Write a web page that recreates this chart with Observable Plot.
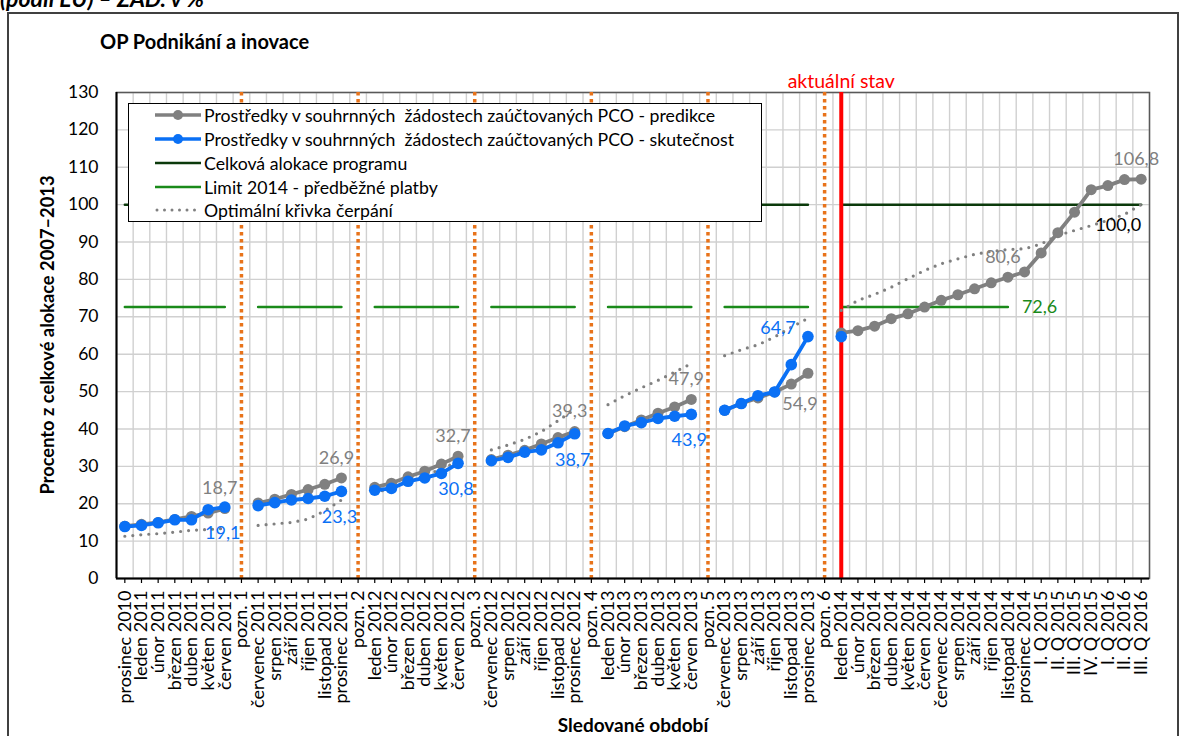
<!DOCTYPE html>
<html><head><meta charset="utf-8">
<script src="https://cdn.jsdelivr.net/npm/d3@7"></script>
<script src="https://cdn.jsdelivr.net/npm/@observablehq/plot@0.6"></script>
<style>
body{margin:0;background:#fff;font-family:Lato,sans-serif;}
#wrap{position:relative;width:1182px;height:736px;overflow:hidden;background:#fff;}
#frame{position:absolute;left:7px;top:12px;width:1168px;height:800px;border:2px solid #404040;}
#top{position:absolute;left:0px;top:-16px;font:italic bold 23px Lato,sans-serif;white-space:pre;}
#title{position:absolute;left:100px;top:29px;font:bold 20px Lato,sans-serif;white-space:pre;}
#chart{position:absolute;left:0;top:0;}
#ylab{position:absolute;left:47px;top:335px;transform:translate(-50%,-50%) rotate(-90deg);font:bold 18.3px Lato,sans-serif;white-space:pre;}
#xlab{position:absolute;left:633px;top:724px;transform:translate(-50%,-50%);font:bold 19px Lato,sans-serif;white-space:pre;}
#legend{position:absolute;left:128px;top:103px;width:632px;height:117px;background:#fff;border:1.5px solid #000;}
.row{position:absolute;left:0;height:24px;display:flex;align-items:center;font:17.7px Lato,sans-serif;white-space:pre;}
.row svg{margin-left:26px;margin-right:3px;}
</style></head><body>
<div id="wrap">
  <div id="frame"></div>
  <div id="top">(podíl EU) – ZAD. v %</div>
  <div id="title">OP Podnikání a inovace</div>
  <div id="chart"></div>
  <div id="ylab">Procento z celkové alokace 2007–2013</div>
  <div id="xlab">Sledované období</div>
  <div id="legend"></div>
</div>
<script>
const categories = [
  "prosinec 2010","leden 2011","únor 2011","březen 2011","duben 2011","květen 2011","červen 2011","pozn. 1",
  "červenec 2011","srpen 2011","září 2011","říjen 2011","listopad 2011","prosinec 2011","pozn. 2",
  "leden 2012","únor 2012","březen 2012","duben 2012","květen 2012","červen 2012","pozn. 3",
  "červenec 2012","srpen 2012","září 2012","říjen 2012","listopad 2012","prosinec 2012","pozn. 4",
  "leden 2013","únor 2013","březen 2013","duben 2013","květen 2013","červen 2013","pozn. 5",
  "červenec 2013","srpen 2013","září 2013","říjen 2013","listopad 2013","prosinec 2013","pozn. 6",
  "leden 2014","únor 2014","březen 2014","duben 2014","květen 2014","červen 2014","červenec 2014","srpen 2014","září 2014","říjen 2014","listopad 2014","prosinec 2014",
  "I. Q 2015","II. Q 2015","III. Q 2015","IV. Q 2015","I. Q 2016","II. Q 2016","III. Q 2016"
];
const N = null;
// Prostředky v souhrnných žádostech zaúčtovaných PCO - predikce
const predikce = [
  14.0,14.5,15.0,15.8,16.6,17.5,18.7,N,
  20.2,21.2,22.5,23.8,25.2,26.9,N,
  24.4,25.5,27.2,28.7,30.6,32.7,N,
  31.8,33.0,34.3,36.0,37.7,39.3,N,
  38.8,40.6,42.4,44.2,45.9,47.9,N,
  45.0,46.8,48.3,49.9,52.0,54.9,N,
  65.7,66.3,67.5,69.5,70.8,72.6,74.4,75.9,77.5,79.1,80.6,82.0,
  87.1,92.5,98.0,104.0,105.1,106.7,106.8
];
// Prostředky v souhrnných žádostech zaúčtovaných PCO - skutečnost
const skutecnost = [
  13.9,14.2,14.9,15.7,15.7,18.4,19.1,N,
  19.5,20.3,21.0,21.4,22.0,23.3,N,
  23.6,24.1,26.0,26.9,28.1,30.8,N,
  31.5,32.4,33.8,34.4,36.3,38.7,N,
  38.8,40.8,41.7,42.8,43.4,43.9,N,
  45.0,46.8,48.9,49.9,57.2,64.7,N,
  64.7,N,N,N,N,N,N,N,N,N,N,N,
  N,N,N,N,N,N,N
];
// Optimální křivka čerpání
const optimalni = [
  11.3,11.7,12.0,12.4,12.9,13.1,13.4,N,
  14.2,14.6,15.0,15.9,18.1,21.0,N,
  22.8,24.3,25.8,27.5,29.3,31.3,N,
  34.4,35.7,37.2,39.3,42.2,45.2,N,
  46.5,48.9,51.0,53.0,55.2,57.5,N,
  59.6,61.2,62.5,64.6,67.2,69.6,N,
  71.7,74.4,76.0,77.9,80.2,82.4,84.2,85.5,86.7,87.5,88.0,88.2,
  89.5,91.8,93.1,94.4,95.8,97.4,100.0
];
// Celková alokace programu
const alokace = categories.map(c => c.startsWith("pozn.") ? N : 100);
// Limit 2014 - předběžné platby
const limitEnd = "listopad 2014";
const limit2014 = categories.map((c, i) => c.startsWith("pozn.") || i > categories.indexOf(limitEnd) ? N : 72.6);
const poznamky = categories.filter(c => c.startsWith("pozn."));
const aktualniStav = "leden 2014";
const yTicks = [0,10,20,30,40,50,60,70,80,90,100,110,120,130];
// labelled points (category names)
const predLabelsAbove = ["červen 2011","prosinec 2011","červen 2012","prosinec 2012","červen 2013","listopad 2014","III. Q 2016"];
const predLabelsBelow = ["prosinec 2013"];
const skutLabelsBelow = ["červen 2011","prosinec 2011","červen 2012","prosinec 2012","červen 2013"];
const skutLabelsLeft = ["prosinec 2013"];
const optLabels = ["III. Q 2016"];
const limitLabel = ["listopad 2014"];

const legendItems = [
  {name:"Prostředky v souhrnných  žádostech zaúčtovaných PCO - predikce", kind:"marker", color:"#808080"},
  {name:"Prostředky v souhrnných  žádostech zaúčtovaných PCO - skutečnost", kind:"marker", color:"#0A70F5"},
  {name:"Celková alokace programu", kind:"line", color:"#0B3A0B"},
  {name:"Limit 2014 - předběžné platby", kind:"line", color:"#1A8A1A"},
  {name:"Optimální křivka čerpání", kind:"dots", color:"#808080"}
];

const rows = categories.map((c, i) => ({cat: c, pred: predikce[i], skut: skutecnost[i], opt: optimalni[i], alok: alokace[i], lim: limit2014[i]}));
const fmt = v => v.toFixed(1).replace(".", ",");
const byCat = new Map(rows.map(r => [r.cat, r]));
const pick = (list) => list.map(c => byCat.get(c));

const W = 1182, H = 736, mL = 116, mR = 33, mT = 92, mB = 158;
const step = (W - mL - mR) / categories.length;
const GRAY = "#808080", BLUE = "#0A70F5", DKGREEN = "#0B3A0B", GREEN = "#1A8A1A", ORANGE = "#E8731A", GRID = "#D0D0D0";

const chart = Plot.plot({
  width: W, height: H,
  marginLeft: mL, marginRight: mR, marginTop: mT, marginBottom: mB,
  style: {fontFamily: "Lato, sans-serif", fontSize: "17px", color: "#000", background: "transparent", overflow: "visible"},
  x: {type: "point", domain: categories, padding: 0.5, label: null},
  y: {domain: [0, 130], label: null},
  marks: [
    Plot.gridY(yTicks, {stroke: GRID, strokeOpacity: 1, strokeWidth: 1.4}),
    Plot.ruleX(categories, {x: d => d, dx: step / 2, stroke: GRID, strokeWidth: 1.4}),
    Plot.frame({stroke: "#595959", strokeWidth: 1.5}),
    Plot.axisY({ticks: yTicks, tickSize: 0, tickPadding: 18, fontSize: 17.5, label: null}),
    Plot.axisX({tickSize: 5, tickPadding: 7, tickRotate: -90, fontSize: 18, label: null, stroke: "#000", strokeWidth: 1.2}),
    Plot.lineY(rows, {x: "cat", y: "alok", stroke: DKGREEN, strokeWidth: 2.5}),
    Plot.lineY(rows, {x: "cat", y: "lim", stroke: GREEN, strokeWidth: 2.5}),
    Plot.ruleX(poznamky, {stroke: ORANGE, strokeWidth: 3.5, strokeDasharray: "3.5 3.5"}),
    Plot.ruleX([aktualniStav], {stroke: "#FF0000", strokeWidth: 4}),
    Plot.lineY(rows, {x: "cat", y: "opt", stroke: GRAY, strokeWidth: 3.2, strokeDasharray: "0 8", strokeLinecap: "round"}),
    Plot.lineY(rows, {x: "cat", y: "pred", stroke: GRAY, strokeWidth: 3.8}),
    Plot.dot(rows.filter(d => d.pred != null), {x: "cat", y: "pred", r: 5.5, fill: GRAY, stroke: null}),
    Plot.lineY(rows, {x: "cat", y: "skut", stroke: BLUE, strokeWidth: 3.8}),
    Plot.dot(rows.filter(d => d.skut != null), {x: "cat", y: "skut", r: 5.8, fill: BLUE, stroke: null}),
    Plot.ruleX([categories[0]], {dx: -step / 2, stroke: "#000", strokeWidth: 2}),
    Plot.ruleY([0], {stroke: "#000", strokeWidth: 2}),
    Plot.text(pick(predLabelsAbove), {x: "cat", y: "pred", text: d => fmt(d.pred), fill: GRAY, dy: -20, dx: -5, fontSize: 18}),
    Plot.text(pick(predLabelsBelow), {x: "cat", y: "pred", text: d => fmt(d.pred), fill: GRAY, dy: 31, dx: -8, fontSize: 18}),
    Plot.text(pick(skutLabelsBelow), {x: "cat", y: "skut", text: d => fmt(d.skut), fill: BLUE, dy: 26, dx: -2, fontSize: 18}),
    Plot.text(pick(skutLabelsLeft), {x: "cat", y: "skut", text: d => fmt(d.skut), fill: BLUE, dy: -8, dx: -30, fontSize: 18}),
    Plot.text(pick(optLabels), {x: "cat", y: "opt", text: d => fmt(d.opt), fill: "#000", dy: 21, dx: -23, fontSize: 18}),
    Plot.text(pick(limitLabel), {x: "cat", y: "lim", text: d => fmt(d.lim), fill: GREEN, dx: 14, textAnchor: "start", fontSize: 18}),
    Plot.text([aktualniStav], {x: d => d, y: 130, text: () => "aktuální stav", fill: "#FF0000", dy: -11, fontSize: 19.5})
  ]
});
document.getElementById("chart").appendChild(chart);

// legend
const leg = document.getElementById("legend");
const rowTops = [-1, 23, 47, 71, 94];
legendItems.forEach((it, i) => {
  const r = document.createElement("div");
  r.className = "row";
  r.style.top = rowTops[i] + "px";
  let sample = `<svg width="46" height="14">`;
  if (it.kind === "marker") sample += `<line x1="0" x2="46" y1="7" y2="7" stroke="${it.color}" stroke-width="3.5"/><circle cx="23" cy="7" r="5" fill="${it.color}"/>`;
  else if (it.kind === "line") sample += `<line x1="0" x2="46" y1="7" y2="7" stroke="${it.color}" stroke-width="2.5"/>`;
  else sample += `<line x1="2" x2="46" y1="7" y2="7" stroke="${it.color}" stroke-width="3" stroke-dasharray="0 7.5" stroke-linecap="round"/>`;
  sample += `</svg>`;
  r.innerHTML = sample + `<span>${it.name}</span>`;
  leg.appendChild(r);
});
</script>
</body></html>
